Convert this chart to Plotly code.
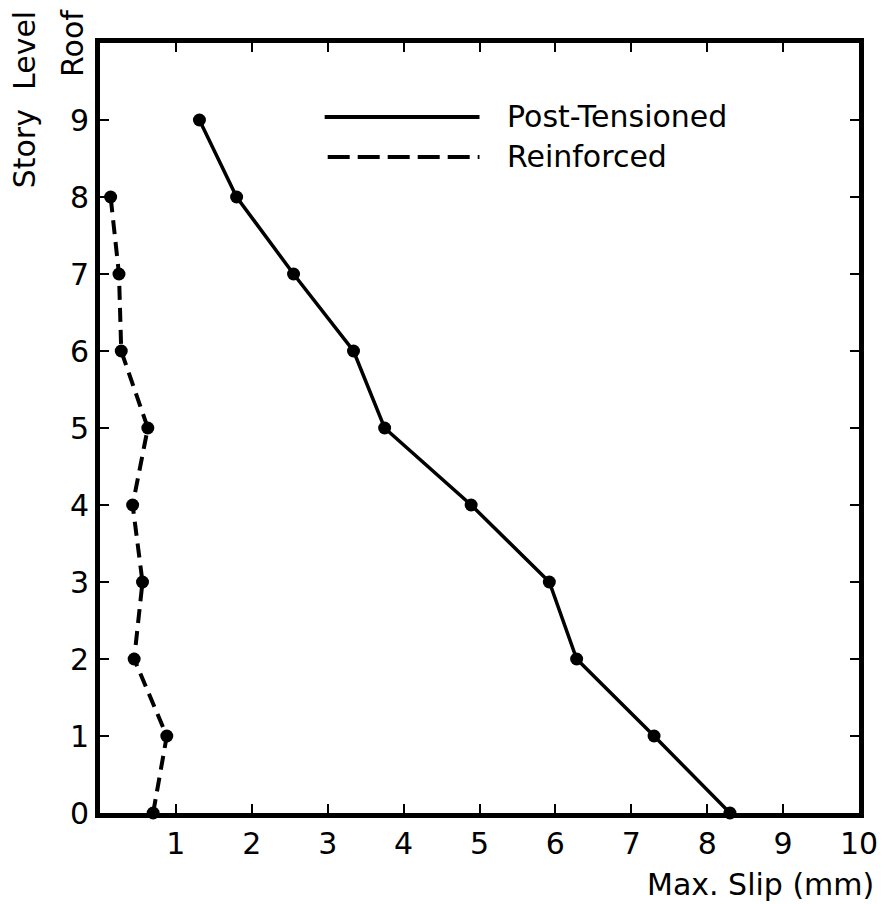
import plotly.graph_objects as go

levels = [0, 1, 2, 3, 4, 5, 6, 7, 8, 9]
post_tensioned = [8.30, 7.30, 6.28, 5.92, 4.89, 3.75, 3.34, 2.55, 1.80, 1.31]
reinf_levels = [0, 1, 2, 3, 4, 5, 6, 7, 8]
reinforced = [0.70, 0.88, 0.45, 0.56, 0.43, 0.63, 0.28, 0.25, 0.14]

x_ticks = [1, 2, 3, 4, 5, 6, 7, 8, 9, 10]
x_ticklabels = ["1", "2", "3", "4", "5", "6", "7", "8", "9", "10"]
y_ticks = [0, 1, 2, 3, 4, 5, 6, 7, 8, 9, 10]
y_ticklabels = ["0", "1", "2", "3", "4", "5", "6", "7", "8", "9", ""]

FONT = "DejaVu Sans"
FS = 30

fig = go.Figure()
fig.add_trace(go.Scatter(x=post_tensioned, y=levels, mode="lines+markers",
                         line=dict(color="black", width=3.5),
                         marker=dict(color="black", size=13),
                         name="Post-Tensioned", showlegend=False, cliponaxis=False))
fig.add_trace(go.Scatter(x=reinforced, y=reinf_levels, mode="lines+markers",
                         line=dict(color="black", width=4, dash="14px,8px"),
                         marker=dict(color="black", size=13),
                         name="Reinforced", showlegend=False, cliponaxis=False))

# legend drawn as layout items
legend_items = [("Post-Tensioned", "solid", 0.904, 0.296), ("Reinforced", "22px,8px", 0.852, 0.300)]
for label, dash, yy, x0 in legend_items:
    fig.add_shape(type="line", xref="paper", yref="paper", x0=x0, x1=0.5, y0=yy, y1=yy,
                  line=dict(color="black", width=4, dash=dash))
    fig.add_annotation(xref="paper", yref="paper", x=0.533, y=yy, text=label, showarrow=False,
                       xanchor="left", yanchor="middle", font=dict(family=FONT, size=FS, color="black"))

fig.add_annotation(xref="paper", yref="y", x=-0.037, y=10, text="Roof", textangle=-90,
                   showarrow=False, xanchor="center", yanchor="middle",
                   font=dict(family=FONT, size=FS, color="black"))
fig.add_annotation(xref="paper", yref="paper", x=-0.1, y=0.927, text="Story  Level", textangle=-90,
                   showarrow=False, xanchor="center", yanchor="middle",
                   font=dict(family=FONT, size=FS, color="black"))
fig.add_annotation(xref="paper", yref="paper", x=1.022, y=-0.0935, text="Max. Slip (mm)",
                   showarrow=False, xanchor="right", yanchor="middle",
                   font=dict(family=FONT, size=FS, color="black"))

fig.update_xaxes(range=[0, 10], tickvals=x_ticks, ticktext=x_ticklabels, ticks="inside",
                 ticklen=9, tickwidth=2, tickcolor="black", showline=True, linewidth=5,
                 linecolor="black", mirror="ticks", showgrid=False, zeroline=False,
                 tickfont=dict(family=FONT, size=FS, color="black"), ticklabelstandoff=0)
fig.update_yaxes(range=[0, 10], tickvals=y_ticks, ticktext=y_ticklabels, ticks="inside",
                 ticklen=9, tickwidth=2, tickcolor="black", showline=True, linewidth=5,
                 linecolor="black", mirror="ticks", showgrid=False, zeroline=False,
                 tickfont=dict(family=FONT, size=FS, color="black"), ticklabelstandoff=0)

fig.update_layout(width=890, height=904, margin=dict(l=100, r=24, t=43, b=91),
                  plot_bgcolor="white", paper_bgcolor="white", showlegend=False,
                  font=dict(family=FONT, size=FS, color="black"))

fig.write_html("out.html", config={"displayModeBar": False},
               post_script="document.body.style.margin='0';")
